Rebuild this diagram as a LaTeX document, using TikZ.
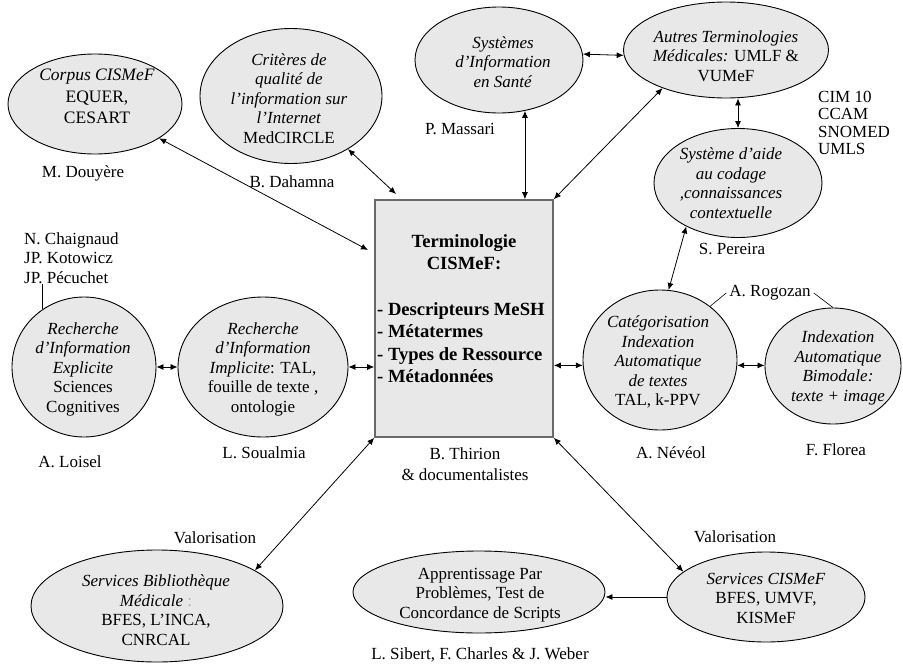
\documentclass[tikz,border=0pt]{standalone}
\usepackage{fontspec}
\setmainfont{Liberation Serif}
\usetikzlibrary{shapes.geometric,arrows.meta,calc}
\begin{document}
\begin{tikzpicture}[x=1pt,y=-1pt,
  every node/.style={font=\fontsize{17}{19.5}\selectfont, inner sep=0pt},
  oval/.style={ellipse, draw=black, line width=0.9pt, fill=gray!18, inner sep=0pt},
  txt/.style={align=center},
  boldtxt/.style={font=\fontsize{18.6}{22.3}\selectfont\bfseries},
  dbl/.style={{Latex[length=7pt,width=6pt]}-{Latex[length=7pt,width=6pt]}, line width=0.8pt},
  sgl/.style={-{Latex[length=7pt,width=6pt]}, line width=0.8pt},
  callout/.style={line width=0.6pt}
]
\useasboundingbox (0,0) rectangle (903,664);
\fill[white] (0,0) rectangle (903,664);

% ellipses
\node[oval, minimum width=174pt, minimum height=100pt] (corpus) at (95,104) {};
\node[oval, minimum width=182pt, minimum height=135pt] (crit) at (291,96) {};
\node[oval, minimum width=168pt, minimum height=106pt] (sys) at (499,60) {};
\node[oval, minimum width=205pt, minimum height=96pt] (autres) at (726,50) {};
\node[oval, minimum width=168pt, minimum height=109pt] (aide) at (738,183) {};
\node[oval, minimum width=154pt, minimum height=140pt] (cat) at (660,360) {};
\node[oval, minimum width=136pt, minimum height=116pt] (idx) at (833,366) {};
\node[oval, minimum width=144pt, minimum height=140pt] (expl) at (84,367) {};
\node[oval, minimum width=170pt, minimum height=140pt] (impl) at (263,367) {};
\node[oval, minimum width=252pt, minimum height=112pt] (bib) at (157,606) {};
\node[oval, minimum width=252pt, minimum height=82pt] (appr) at (479,592) {};
\node[oval, minimum width=198pt, minimum height=90pt] (serv) at (766,597) {};

% central box
\node[draw={rgb,255:red,105;green,105;blue,105}, fill=gray!18, line width=1.6pt,
      minimum width=178pt, minimum height=237pt] (box) at (464,318.5) {};
\node[boldtxt, align=center] (btitle) at (464,252) {Terminologie\\CISMeF:};
\node[boldtxt, align=left, anchor=west] (blist) at (377,342.5)
  {- Descripteurs MeSH\\- Métatermes\\- Types de Ressource\\- Métadonnées};

% ellipse texts
\node[txt, font=\fontsize{17.5}{21.5}\selectfont] (tcorpus) at (97,96.5) {\textit{Corpus CISMeF}\\EQUER,\\CESART};
\node[txt] (tcrit) at (289,98.5) {\textit{Critères de}\\\textit{qualité de}\\\textit{l'information sur}\\\textit{l'Internet}\\MedCIRCLE};
\node[txt] (tsys) at (503,62) {\textit{Systèmes}\\\textit{d'Information}\\\textit{en Santé}};
\node[txt] (tautres) at (726,56) {\textit{Autres Terminologies}\\\textit{Médicales:} UMLF \&\\VUMeF};
\node[txt] (taide) at (731,183) {\textit{Système d'aide}\\\textit{au codage}\\\textit{,connaissances}\\\textit{contextuelle}};
\node[txt] (tcat) at (658,362) {\textit{Catégorisation}\\\textit{Indexation}\\\textit{Automatique}\\\textit{de textes}\\TAL, k-PPV};
\node[txt] (tidx) at (838,368) {\textit{Indexation}\\\textit{Automatique}\\\textit{Bimodale:}\\\textit{texte + image}};
\node[txt] (texpl) at (83,369) {\textit{Recherche}\\\textit{d'Information}\\\textit{Explicite}\\Sciences\\Cognitives};
\node[txt] (timpl) at (263,369) {\textit{Recherche}\\\textit{d'Information}\\\textit{Implicite}: TAL,\\fouille de texte ,\\ontologie};
\node[txt] (tbib) at (156,610) {\textit{Services Bibliothèque}\\\textit{Médicale} \textcolor{gray!60}{:}\\BFES, L'INCA,\\CNRCAL};
\node[txt] (tappr) at (480,595) {Apprentissage Par\\Problèmes, Test de\\Concordance de Scripts};
\node[txt] (tserv) at (766,598) {\textit{Services CISMeF}\\BFES, UMVF,\\KISMeF};

% labels
\node (ldouy) at (83,173) {M. Douyère};
\node (ldah) at (292,182) {B. Dahamna};
\node (lmas) at (460,129) {P. Massari};
\node[align=left, anchor=west, font=\fontsize{17}{17.2}\selectfont] (lcim) at (818,123) {CIM 10\\CCAM\\SNOMED\\UMLS};
\node (lper) at (732,249) {S. Pereira};
\node[inner sep=3pt] (rog) at (770,293) {A. Rogozan};
\node[align=left, anchor=west] (chaig) at (24,258) {N. Chaignaud\\JP. Kotowicz\\JP. Pécuchet};
\node (lloi) at (70,462) {A. Loisel};
\node (lsou) at (264,453) {L. Soualmia};
\node[align=center, font=\fontsize{17}{21.5}\selectfont] (lthi) at (465,464) {B. Thirion\\\& documentalistes};
\node (lnev) at (671,453) {A. Névéol};
\node (lflo) at (836,450) {F. Florea};
\node (lval1) at (215,538) {Valorisation};
\node (lval2) at (735,537) {Valorisation};
\node (lsib) at (480,655) {L. Sibert, F. Charles \& J. Weber};

% connectors
\coordinate (a1) at (368,250);
\coordinate (a2) at (396,194);
\draw[dbl] (corpus) -- (a1);
\draw[dbl] (crit) -- (a2);
\draw[dbl] (sys.-63) -- (sys.-63 |- box.north);
\draw[dbl] (sys.4) -- (autres.183);
\draw[dbl] (box.north east) -- (autres.-149);
\draw[dbl] (aide.north) -- (aide.north |- autres.south);
\draw[dbl] (aide.-140) -- (cat.83);
\draw[dbl] (cat.184) -- (cat.184 -| box.east);
\draw[dbl] (cat.-4) -- (cat.-4 -| idx.west);
\draw[dbl] (expl.east) -- (impl.west);
\draw[dbl] (impl.east) -- (impl.east -| box.west);
\draw[dbl] (box.south west) -- (bib.20);
\draw[dbl] (box.south east) -- (serv.163);
\draw[sgl] (serv.west) -- (serv.west -| appr.east);

% callout lines
\draw[callout] (expl.126) -- (expl.126 |- chaig.south);
\draw[callout] (cat.47) -- (rog.west);
\draw[callout] (rog.east) -- (idx.north);
\end{tikzpicture}
\end{document}
